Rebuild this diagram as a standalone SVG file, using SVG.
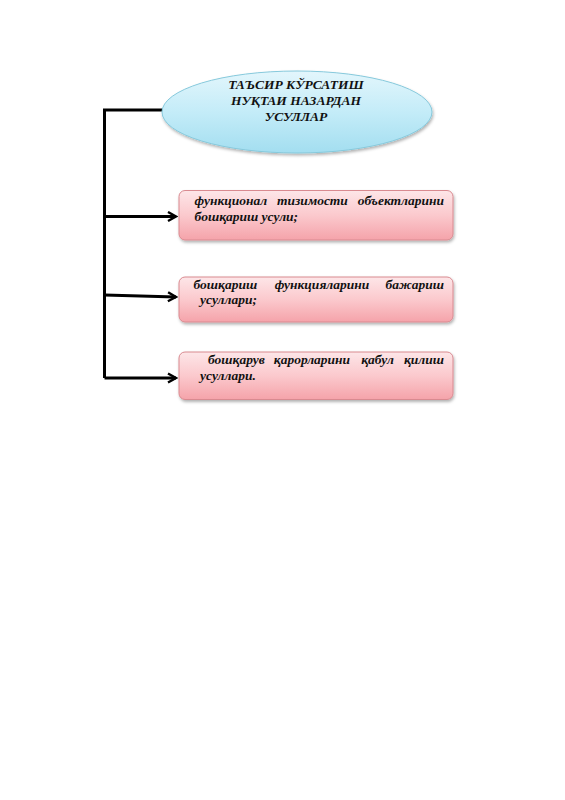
<svg xmlns="http://www.w3.org/2000/svg" width="565" height="800" viewBox="0 0 565 800">
<style>
.t{font-family:"Liberation Serif","Times New Roman",serif;font-weight:bold;font-style:italic;fill:#111;}
.h{font-size:13.5px;text-anchor:middle;}
.b{font-size:13.5px;}
.e{text-anchor:end;}
.m{text-anchor:middle;}
.box{fill:url(#pink);stroke:#d98a90;stroke-width:1;filter:url(#sh);}
.con{fill:none;stroke:#000;stroke-width:3;}
</style>
<defs>
<linearGradient id="pink" x1="0" y1="0" x2="0" y2="1">
<stop offset="0" stop-color="#fde6e8"/>
<stop offset="0.5" stop-color="#fbc9cd"/>
<stop offset="1" stop-color="#f5a3aa"/>
</linearGradient>
<linearGradient id="blue" x1="0" y1="0" x2="0" y2="1">
<stop offset="0" stop-color="#e3f6fc"/>
<stop offset="0.5" stop-color="#c4ecf8"/>
<stop offset="1" stop-color="#a3def0"/>
</linearGradient>
<filter id="sh" x="-10%" y="-20%" width="120%" height="150%">
<feDropShadow dx="1" dy="2" stdDeviation="1.5" flood-color="#000" flood-opacity="0.3"/>
</filter>
<marker id="arr" viewBox="0 0 12 12" refX="10" refY="6" markerWidth="12" markerHeight="12" markerUnits="userSpaceOnUse" orient="auto">
<path d="M2,1.5 L10,6 L2,10.5" fill="none" stroke="#000" stroke-width="2.4"/>
</marker>
</defs>
<rect width="565" height="800" fill="#fff"/>
<g id="connectors">
<path class="con" d="M163,110 L104.5,110 L104.5,378"/>
<path class="con" d="M104.5,216.5 L176,216.5" marker-end="url(#arr)"/>
<path class="con" d="M104.5,295 L176,297" marker-end="url(#arr)"/>
<path class="con" d="M104.5,378 L176,378" marker-end="url(#arr)"/>
</g>
<g id="root">
<ellipse cx="297" cy="112" rx="135" ry="41" fill="url(#blue)" stroke="#86c9dc" stroke-width="1" filter="url(#sh)"/>
<text class="t h" x="296" y="89">ТАЪСИР КЎРСАТИШ</text>
<text class="t h" x="296" y="105">НУҚТАИ НАЗАРДАН</text>
<text class="t h" x="296" y="121">УСУЛЛАР</text>
</g>
<g id="n1">
<rect class="box" x="179" y="190.5" width="274" height="49.5" rx="6"/>
<text class="t b" x="194.6" y="205">функционал</text>
<text class="t b m" x="312.5" y="205">тизимости</text>
<text class="t b e" x="444" y="205">объектларини</text>
<text class="t b" x="194.6" y="221">бошқариш усули;</text>
</g>
<g id="n2">
<rect class="box" x="179" y="277" width="274" height="45" rx="6"/>
<text class="t b" x="193.5" y="288.6">бошқариш</text>
<text class="t b m" x="322" y="288.6">функцияларини</text>
<text class="t b e" x="444" y="288.6">бажариш</text>
<text class="t b" x="200" y="304">усуллари;</text>
</g>
<g id="n3">
<rect class="box" x="179" y="352" width="274" height="47.5" rx="6"/>
<text class="t b" x="208" y="364">бошқарув</text>
<text class="t b m" x="312" y="364">қарорларини</text>
<text class="t b m" x="377.5" y="364">қабул</text>
<text class="t b e" x="444" y="364">қилиш</text>
<text class="t b" x="200" y="380">усуллари.</text>
</g>
</svg>
